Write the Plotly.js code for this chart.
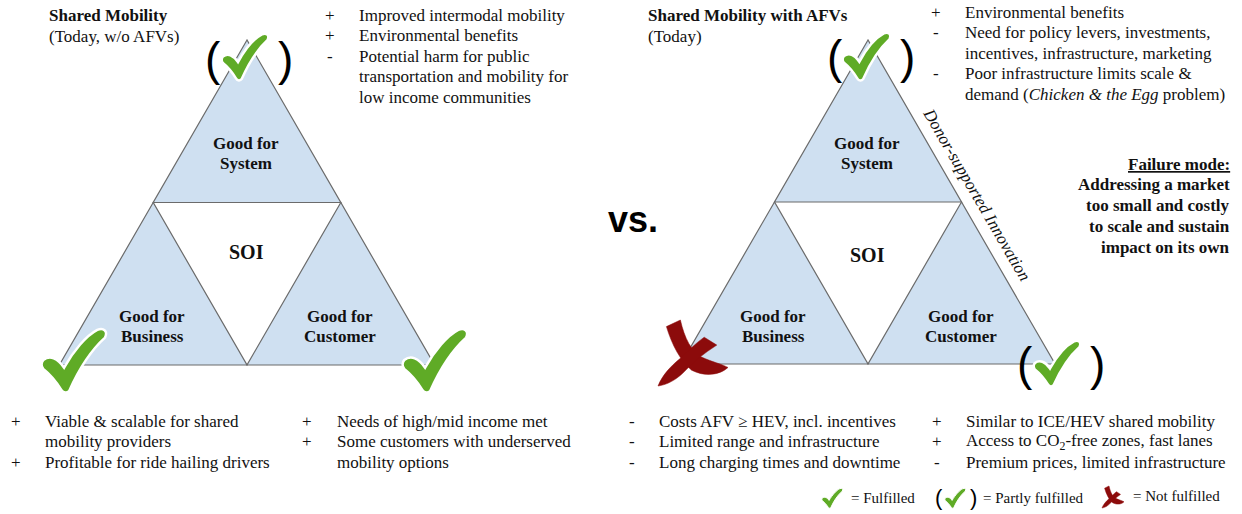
<!DOCTYPE html>
<html><head><meta charset="utf-8">
<script src="https://cdn.plot.ly/plotly-3.0.1.min.js"></script>
<style>html,body{margin:0;padding:0;background:#fff;}#chart{width:1242px;height:514px;}</style>
</head><body><div id="chart"></div>
<script>
// ---- text content ----
const leftTitle = ["<b>Shared Mobility</b>", "(Today, w/o AFVs)"];
const rightTitle = ["<b>Shared Mobility with AFVs</b>", "(Today)"];
const triLabels = ["<b>Good for</b>", "<b>System</b>", "<b>SOI</b>", "<b>Good for</b>", "<b>Business</b>", "<b>Good for</b>", "<b>Customer</b>"];

const tlMarks = ["+", "+", "-", "", ""];
const tlLines = ["Improved intermodal mobility", "Environmental benefits", "Potential harm for public", "transportation and mobility for", "low income communities"];
const trMarks = ["+", "-", "", "-", ""];
const trLines = ["Environmental benefits", "Need for policy levers, investments,", "incentives, infrastructure, marketing", "Poor infrastructure limits scale &", "demand (<i>Chicken &amp; the Egg</i> problem)"];
const bl1Marks = ["+", "", "+"];
const bl1Lines = ["Viable &amp; scalable for shared", "mobility providers", "Profitable for ride hailing drivers"];
const bl2Marks = ["+", "+", ""];
const bl2Lines = ["Needs of high/mid income met", "Some customers with underserved", "mobility options"];
const br1Marks = ["-", "-", "-"];
const br1Lines = ["Costs AFV \u2265 HEV, incl. incentives", "Limited range and infrastructure", "Long charging times and downtime"];
const br2Marks = ["+", "+", "-"];
const br2Lines = ["Similar to ICE/HEV shared mobility", "Access to CO<sub>2</sub>-free zones, fast lanes", "Premium prices, limited infrastructure"];
const failureLines = ["<b><u>Failure mode:</u></b>", "<b>Addressing a market</b>", "<b>too small and costly</b>", "<b>to scale and sustain</b>", "<b>impact on its own</b>"];
const donorText = "<i>Donor-supported Innovation</i>";
const vsText = "<b>vs.</b>";
const legendLabels = ["= Fulfilled", "= Partly fulfilled", "= Not fulfilled"];

// ---- styles ----
const SERIF = "Liberation Serif, Times New Roman, serif";
const INK = "#111111";
const FILL = "#cfe0f1";
const EDGE = "#6b6b6b";
const GREEN = "#5fab26";
const RED = "#8c0b0b";

const shapes = [];
const ann = [];

function txt(x, y, text, size, opts) {
  ann.push(Object.assign({
    x: x, y: y, xref: "x", yref: "y", text: text, showarrow: false,
    xanchor: "left", yanchor: "middle",
    font: {family: SERIF, size: size, color: INK}
  }, opts || {}));
}

// triangle diagram
function diagram(ax, ay, h) {
  const hw = h / Math.sqrt(3);
  const my = ay + h / 2, by = ay + h;
  const P = (pts) => "M" + pts.map(p => p[0].toFixed(1) + "," + p[1].toFixed(1)).join(" L") + " Z";
  const st = {type: "path", xref: "x", yref: "y", fillcolor: FILL, line: {color: EDGE, width: 1.2}, layer: "below"};
  shapes.push(Object.assign({path: P([[ax, ay], [ax - hw / 2, my], [ax + hw / 2, my]])}, st));
  shapes.push(Object.assign({path: P([[ax - hw / 2, my], [ax - hw, by], [ax, by]])}, st));
  shapes.push(Object.assign({path: P([[ax + hw / 2, my], [ax, by], [ax + hw, by]])}, st));
}

function mapPath(segs, x0, y0, w, h) {
  return segs.map(s => s[0] + " " + s.slice(1).map((v, i) => (i % 2 === 0 ? (x0 + v * w) : (y0 + v * h)).toFixed(1)).join(",")).join(" ") + " Z";
}
const checkSegs = [
  ["M", 0.02, 0.50],
  ["C", 0.12, 0.42, 0.24, 0.47, 0.34, 0.62],
  ["C", 0.48, 0.36, 0.68, 0.12, 0.85, 0.03],
  ["C", 0.94, -0.01, 1.02, 0.04, 0.97, 0.15],
  ["C", 0.72, 0.38, 0.55, 0.68, 0.42, 0.98],
  ["C", 0.39, 1.02, 0.33, 1.02, 0.30, 0.97],
  ["C", 0.22, 0.84, 0.12, 0.72, 0.02, 0.64],
  ["C", -0.02, 0.60, -0.01, 0.53, 0.02, 0.50]
];
function check(x0, y0, w, h, lw) {
  shapes.push({type: "path", xref: "x", yref: "y", path: mapPath(checkSegs, x0, y0, w, h),
    fillcolor: GREEN, line: {color: "#ffffff", width: lw}, layer: "above"});
}
const xA = [["M", 0.12, 0.10], ["L", 0.32, 0.00], ["C", 0.38, 0.28, 0.48, 0.48, 0.62, 0.56], ["C", 0.78, 0.64, 0.90, 0.66, 1.00, 0.72], ["C", 0.88, 0.84, 0.66, 0.86, 0.48, 0.76], ["C", 0.32, 0.62, 0.20, 0.38, 0.12, 0.10]];
const xB = [["M", 0.66, 0.26], ["L", 0.84, 0.38], ["C", 0.66, 0.50, 0.50, 0.64, 0.36, 0.80], ["C", 0.26, 0.90, 0.14, 0.98, 0.00, 1.00], ["C", 0.06, 0.84, 0.18, 0.70, 0.32, 0.58], ["C", 0.44, 0.46, 0.55, 0.34, 0.66, 0.26]];
function cross(x0, y0, w, h) {
  [xA, xB].forEach(sg => shapes.push({type: "path", xref: "x", yref: "y", path: mapPath(sg, x0, y0, w, h),
    fillcolor: RED, line: {color: RED, width: 0.5}, layer: "above"}));
}
function paren(x, y, size, ch) {
  ann.push({x: x, y: y, xref: "x", yref: "y", text: ch, showarrow: false, xanchor: "center", yanchor: "middle",
    font: {family: "Liberation Sans, Arial, sans-serif", size: size, color: "#000"}});
}

// diagrams
diagram(247, 40, 325);
diagram(868, 40, 324);

// triangle labels
function labels(cx, cy) {
  const L = triLabels;
  const o = {xanchor: "center"};
  txt(cx, 143, L[0], 17, o); txt(cx, 163, L[1], 17, o);
  txt(cx, cy, L[2], 20, o);
  txt(cx - 94, 316, L[3], 17, o); txt(cx - 94, 336, L[4], 17, o);
  txt(cx + 94, 316, L[5], 17, o); txt(cx + 94, 336, L[6], 17, o);
}
labels(246, 252);
labels(867, 255);

// headers
txt(47, 15, leftTitle[0], 17); txt(47, 36, leftTitle[1], 17);
txt(646, 15, rightTitle[0], 17); txt(646, 36, rightTitle[1], 17);

// bullet lists
function list(mx, tx, y0, marks, lines) {
  lines.forEach((l, i) => {
    const y = y0 + i * 20.6;
    if (marks[i]) txt(mx, y, marks[i], 17, {xanchor: "center"});
    txt(tx, y, l, 17);
  });
}
list(330, 357, 15, tlMarks, tlLines);
list(936, 963, 12, trMarks, trLines);
list(16, 43, 421, bl1Marks, bl1Lines);
list(307, 335, 421, bl2Marks, bl2Lines);
list(632, 657, 421, br1Marks, br1Lines);
list(937, 964, 421, br2Marks, br2Lines);

// failure mode
failureLines.forEach((l, i) => txt(1232, 164 + i * 20.8, l, 17, {xanchor: "right"}));

// donor-supported innovation
txt(977, 194, donorText, 17, {xanchor: "center", textangle: 59.8});

// vs.
txt(633, 219, vsText, 36, {xanchor: "center", font: {family: "Liberation Sans, Arial, sans-serif", size: 36, color: "#000"}});

// checks & marks on diagrams
paren(213, 59, 46, "(");
paren(285, 59, 46, ")");
check(222, 33, 47, 47, 2.5);
check(42, 328, 65, 64, 2.5);
check(403, 328, 65, 64, 2.5);

paren(835, 57, 46, "(");
paren(907, 57, 46, ")");
check(843, 32, 48, 48, 2.5);
paren(1025, 364, 46, "(");
paren(1097, 364, 46, ")");
check(1034, 340, 47, 46, 2.5);
cross(658, 320, 70, 66);

// legend
check(822, 488, 21, 20, 1);
txt(849, 498, legendLabels[0], 15);
paren(939, 497, 22, "(");
check(945, 488, 21, 20, 1);
paren(973, 497, 22, ")");
txt(981, 498, legendLabels[1], 15);
cross(1102, 486, 22, 22);
txt(1131, 496, legendLabels[2], 15);

const layout = {
  width: 1242, height: 514,
  margin: {l: 0, r: 0, t: 0, b: 0, pad: 0},
  paper_bgcolor: "#ffffff", plot_bgcolor: "#ffffff",
  xaxis: {range: [0, 1242], visible: false, fixedrange: true},
  yaxis: {range: [514, 0], visible: false, fixedrange: true},
  showlegend: false,
  shapes: shapes,
  annotations: ann
};
Plotly.newPlot("chart", [{x: [], y: [], type: "scatter"}], layout, {staticPlot: true, displayModeBar: false});
</script>
</body></html>
